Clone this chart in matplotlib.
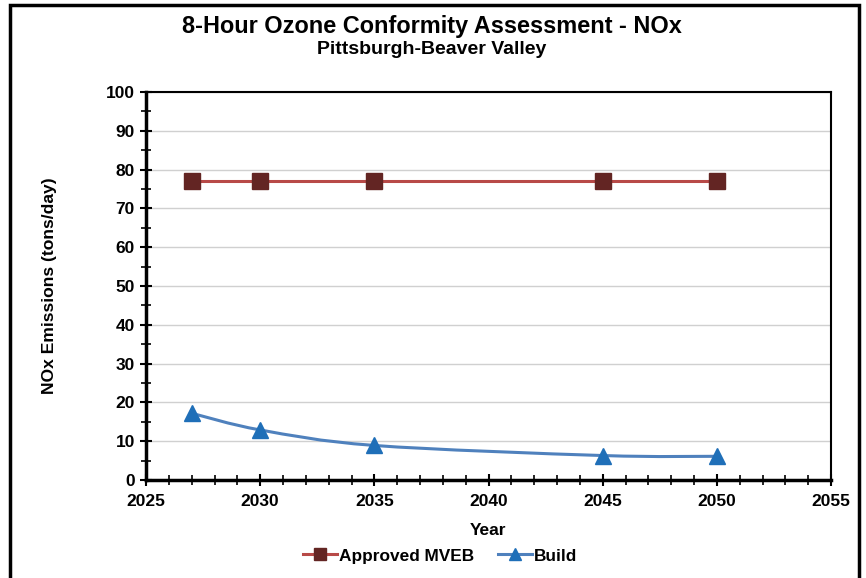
import matplotlib
matplotlib.use("Agg")
import matplotlib.pyplot as plt
from matplotlib.path import Path
from matplotlib.patches import PathPatch, Rectangle
from matplotlib.ticker import MultipleLocator
import numpy as np

years = [2027, 2030, 2035, 2045, 2050]
mveb = [77, 77, 77, 77, 77]
build = [17.2, 12.9, 8.9, 6.3, 6.1]

title = "8-Hour Ozone Conformity Assessment - NOx"
subtitle = "Pittsburgh-Beaver Valley"

plt.rcParams['font.family'] = ['Liberation Sans', 'DejaVu Sans']
plt.rcParams['font.weight'] = 'bold'

fig = plt.figure(figsize=(8.66, 5.78), dpi=100)
ax = fig.add_axes([0.1686, 0.1696, 0.9596 - 0.1686, 0.8408 - 0.1696])

# figure border
fig.patches.append(Rectangle((10/866, -0.05), (859-10)/866, 1 - 5/578 + 0.05,
                             transform=fig.transFigure, fill=False,
                             edgecolor='black', linewidth=2.5))

red_line = '#B84A48'
red_mark = '#632523'
blue_line = '#4F81BD'
blue_mark = '#1F6FB8'

ax.plot(years, mveb, color=red_line, linewidth=2.2, marker='s', markersize=11.5,
        markerfacecolor=red_mark, markeredgecolor=red_mark, label='Approved MVEB', zorder=3)

# smooth line for Build (Catmull-Rom as cubic Bezier)
x = np.array(years, float); y = np.array(build, float)
verts = [(x[0], y[0])]; codes = [Path.MOVETO]
n = len(x)
for i in range(n - 1):
    p0 = (x[i-1], y[i-1]) if i > 0 else (x[i], y[i])
    p1 = (x[i], y[i]); p2 = (x[i+1], y[i+1])
    p3 = (x[i+2], y[i+2]) if i + 2 < n else (x[i+1], y[i+1])
    t = 1/6
    c1 = (p1[0] + (p2[0]-p0[0])*t, p1[1] + (p2[1]-p0[1])*t)
    c2 = (p2[0] - (p3[0]-p1[0])*t, p2[1] - (p3[1]-p1[1])*t)
    verts += [c1, c2, p2]; codes += [Path.CURVE4]*3
ax.add_patch(PathPatch(Path(verts, codes), transform=ax.transData, fill=False,
                       edgecolor=blue_line, linewidth=2.2, zorder=2))
ax.plot(years, build, linestyle='none', marker='^', markersize=12,
        markerfacecolor=blue_mark, markeredgecolor=blue_mark, zorder=3)
ax.plot([], [], color=blue_line, linewidth=2.2, marker='^', markersize=12,
        markerfacecolor=blue_mark, markeredgecolor=blue_mark, label='Build')

ax.set_xlim(2025, 2055)
ax.set_ylim(0, 100)
ax.xaxis.set_major_locator(MultipleLocator(5))
ax.xaxis.set_minor_locator(MultipleLocator(1))
ax.yaxis.set_major_locator(MultipleLocator(10))
ax.yaxis.set_minor_locator(MultipleLocator(5))
ax.grid(axis='y', which='major', color='#D0D0D0', linewidth=1)
ax.set_axisbelow(True)

for s in ['left', 'bottom']:
    ax.spines[s].set_linewidth(2.5)
for s in ['top', 'right']:
    ax.spines[s].set_linewidth(1.5)

ax.tick_params(which='major', direction='inout', length=8, width=1.5, labelsize=12.5, pad=4)
ax.tick_params(which='minor', direction='inout', length=7, width=1.2)
ax.tick_params(axis='x', which='major', pad=6)
for lab in ax.get_xticklabels() + ax.get_yticklabels():
    lab.set_fontweight('bold')

ax.set_xlabel('Year', fontsize=12.5, fontweight='bold', labelpad=10)
ax.set_ylabel('NOx Emissions (tons/day)', fontsize=12.6, fontweight='bold', labelpad=35)

fig.text(0.499, 1 - 26/578, title, ha='center', va='center', fontsize=16.9, fontweight='bold')
fig.text(0.499, 1 - 49/578, subtitle, ha='center', va='center', fontsize=14, fontweight='bold')

leg = fig.legend(loc='center', bbox_to_anchor=(0.508, 1 - 556/578), ncol=2, frameon=False,
                 handlelength=2.0, handletextpad=0.1, columnspacing=1.4, markerscale=0.75,
                 prop={'weight': 'bold', 'size': 12.4})

fig.savefig('out.png', dpi=100)
